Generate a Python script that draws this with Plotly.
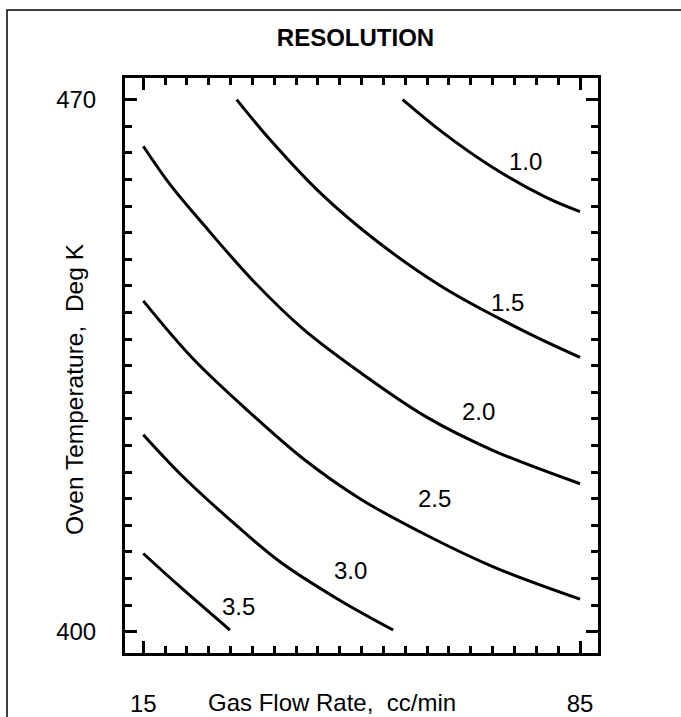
import plotly.graph_objects as go

# ---- data ----
levels = ["1.0", "1.5", "2.0", "2.5", "3.0", "3.5"]

c10_x = [56.57, 63.08, 71.09, 79.65, 85.0]
c10_y = [470.0, 465.63, 461.04, 457.10, 455.26]

c15_x = [29.97, 35.30, 43.32, 52.40, 63.08, 76.44, 85.0]
c15_y = [470.0, 464.75, 457.76, 451.40, 445.29, 439.38, 436.10]

c20_x = [15.0, 19.28, 24.62, 32.63, 40.64, 49.73, 60.42, 71.09, 85.0]
c20_y = [463.87, 458.85, 453.60, 446.15, 439.81, 434.13, 428.23, 423.84, 419.47]

c25_x = [15.0, 23.01, 32.63, 40.64, 49.73, 60.42, 71.09, 85.0]
c25_y = [443.53, 435.88, 428.44, 422.76, 417.50, 412.69, 408.54, 404.29]

c30_x = [15.0, 20.88, 28.37, 36.91, 45.99, 55.06]
c30_y = [425.91, 420.79, 415.11, 409.20, 404.38, 400.22]

c35_x = [15.0, 20.88, 28.89]
c35_y = [410.29, 405.92, 400.22]

label_x = [76.25, 73.4, 68.69, 61.62, 48.25, 30.22]
label_y = [461.9, 443.3, 429.03, 417.57, 408.1, 403.29]

x_major = [15, 29, 43, 57, 71, 85]
x_minor = [15 + 3.5 * i for i in range(21)]
x_ticktext = ["15", "", "", "", "", "85"]
y_major = [400, 414, 428, 442, 456, 470]
y_minor = [400 + 3.5 * i for i in range(21)]
y_ticktext = ["400", "", "", "", "", "470"]

title_text = "<b>RESOLUTION</b>"
x_title = "Gas Flow Rate,  cc/min"
y_title = "Oven Temperature,  Deg K"

FONT = "Liberation Sans, Arial, Helvetica, sans-serif"

curves = [(c10_x, c10_y), (c15_x, c15_y), (c20_x, c20_y),
          (c25_x, c25_y), (c30_x, c30_y), (c35_x, c35_y)]

fig = go.Figure()
for (cx, cy), lv in zip(curves, levels):
    fig.add_trace(go.Scatter(x=cx, y=cy, mode="lines", name=lv,
                             line=dict(color="black", width=3, shape="spline", smoothing=1.0),
                             showlegend=False, hoverinfo="skip"))

for lx, ly, lv in zip(label_x, label_y, levels):
    fig.add_annotation(x=lx, y=ly, xref="x", yref="y", text=lv, showarrow=False,
                       font=dict(family=FONT, size=24, color="black"))

axis_common = dict(showline=True, linecolor="black", linewidth=3, mirror="allticks",
                   ticks="inside", ticklen=12, tickwidth=3, tickcolor="black",
                   showgrid=False, zeroline=False, automargin=False,
                   tickfont=dict(family=FONT, size=24, color="black"))

fig.update_xaxes(range=[12.067, 87.885], tickmode="array", tickvals=x_major, ticktext=x_ticktext,
                 minor=dict(tickmode="array", tickvals=x_minor, ticks="inside", ticklen=7,
                            tickwidth=3, tickcolor="black", showgrid=False),
                 ticklabelstandoff=27, **axis_common)
fig.update_yaxes(range=[397.2, 472.85], tickmode="array", tickvals=y_major, ticktext=y_ticktext,
                 minor=dict(tickmode="array", tickvals=y_minor, ticks="inside", ticklen=7,
                            tickwidth=3, tickcolor="black", showgrid=False),
                 ticklabelstandoff=21, **axis_common)

fig.add_annotation(x=(331.7 - 125) / 473, y=(653 - 702) / 575, xref="paper", yref="paper",
                   text=x_title, showarrow=False, xanchor="center", yanchor="middle",
                   font=dict(family=FONT, size=24, color="black"))
fig.add_annotation(x=(74 - 125) / 473, y=(653 - 389) / 575, xref="paper", yref="paper",
                   text=y_title, showarrow=False, textangle=-90, xanchor="center", yanchor="middle",
                   font=dict(family=FONT, size=24.5, color="black"))

# outer frame lines of the scanned figure
fig.add_shape(type="path", xref="paper", yref="paper",
              path="M %f %f L %f %f L %f %f" % ((7 - 125) / 473, (653 - 717) / 575,
                                                 (7 - 125) / 473, (653 - 10) / 575,
                                                 (681 - 125) / 473, (653 - 10) / 575),
              line=dict(color="black", width=1.5))

fig.update_layout(
    width=681, height=717,
    margin=dict(l=125, r=83, t=78, b=64, autoexpand=False),
    paper_bgcolor="white", plot_bgcolor="white",
    title=dict(text=title_text, x=355.5 / 681, y=1 - 37.5 / 717, xanchor="center", yanchor="middle",
               font=dict(family=FONT, size=24, color="black")),
)

fig.write_html("out.html", config={"displayModeBar": False},
               post_script="document.body.style.margin='0';document.body.style.overflow='hidden';")
